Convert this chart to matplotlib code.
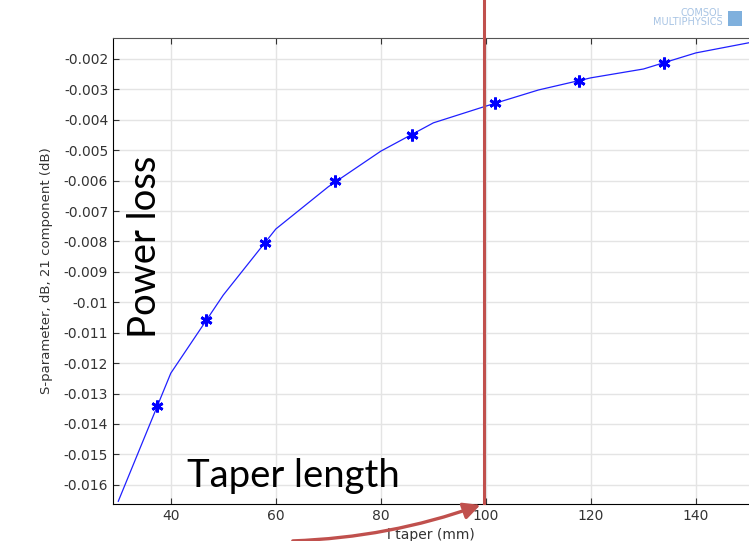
import matplotlib.pyplot as plt
from matplotlib.lines import Line2D
from matplotlib.patches import FancyArrowPatch, Rectangle

# curve vertices (l taper in mm, S21 in dB)
taper_len = [30, 40, 50, 60, 70, 80, 90, 100, 110, 120, 130, 140, 150]
s21_db = [-0.01654, -0.01233, -0.00976, -0.00759, -0.0062, -0.00503, -0.0041,
          -0.00355, -0.00302, -0.00262, -0.00233, -0.0018, -0.00147]

# marker positions along the curve
mark_len = [37.3, 46.7, 57.9, 71.2, 85.9, 101.7, 117.7, 133.9]
mark_db = [-0.01341, -0.01059, -0.00805, -0.00601, -0.0045, -0.00345, -0.00272, -0.00213]

y_ticks = [-0.002, -0.003, -0.004, -0.005, -0.006, -0.007, -0.008, -0.009, -0.01,
           -0.011, -0.012, -0.013, -0.014, -0.015, -0.016]
x_ticks = [40, 60, 80, 100, 120, 140]

fig = plt.figure(figsize=(7.49, 5.41), dpi=100)
ax = fig.add_axes([0.1509, 0.0684, 0.8491, 0.8614])

ax.plot(taper_len, s21_db, color='#2020ff', lw=0.9)
ax.plot(mark_len, mark_db, ls='none', marker=(6, 2, 0), ms=8.5, mew=2.0, color='#0000ff')

ax.set_xlim(29, 150.1)
ax.set_ylim(-0.01663, -0.00131)
ax.set_xticks(x_ticks)
ax.set_yticks(y_ticks)
ax.set_yticklabels([('%g' % v) for v in y_ticks])
ax.grid(True, color='#e4e4e4', lw=1)
ax.set_axisbelow(True)
ax.tick_params(direction='in', length=4, labelsize=10, labelcolor='#333333',
               top=True, right=False, color='#333333')
for side in ['left', 'bottom']:
    ax.spines[side].set_color('black')
ax.spines['top'].set_color('#555555')
ax.spines['right'].set_visible(False)

ax.set_ylabel('S-parameter, dB, 21 component (dB)', fontsize=9.5, color='#333333', labelpad=8)
ax.set_xlabel('l taper (mm)', fontsize=10, color='#333333', labelpad=4)

# overlay annotations
fig.text(145 / 749, 1 - 247 / 541, 'Power loss', rotation=90, fontsize=27.5,
         family='Lato', ha='center', va='center', color='black')
fig.text(187 / 749, 1 - 487 / 541, 'Taper length', fontsize=27.5,
         family='Lato', ha='left', va='baseline', color='black')

red = '#c0504d'
fig.add_artist(Line2D([484 / 749, 484 / 749], [1.0, 1 - 503 / 541], color=red, lw=2.2))
fig.add_artist(FancyArrowPatch((290 / 749, 1 - 541 / 541), (483 / 749, 1 - 504 / 541),
                               transform=fig.transFigure, connectionstyle='arc3,rad=0.08',
                               arrowstyle='-|>,head_length=10,head_width=5',
                               color=red, lw=2.4, clip_on=False))

# logo
fig.text(723 / 749, 1 - 13 / 541, 'COMSOL', fontsize=7, color='#a8c4e4', ha='right', va='center')
fig.text(723 / 749, 1 - 22 / 541, 'MULTIPHYSICS', fontsize=7, color='#a8c4e4', ha='right', va='center')
fig.add_artist(Rectangle((728 / 749, 1 - 26 / 541), 14 / 749, 15 / 541,
                         transform=fig.transFigure, facecolor='#7fb0dd', edgecolor='none'))

fig.savefig('out.png', dpi=100)
